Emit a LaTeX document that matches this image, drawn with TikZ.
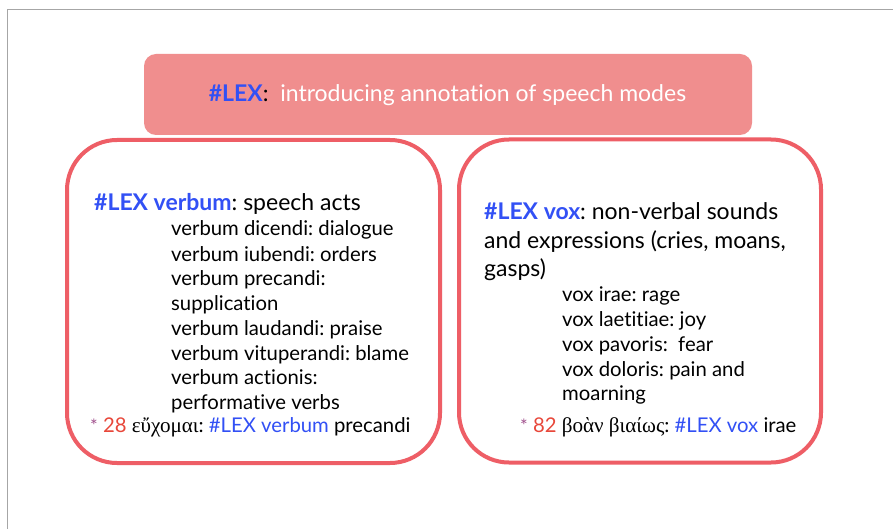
\documentclass[tikz,border=0pt]{standalone}
\usepackage{fontspec}
\setmainfont{Lato}[RawFeature=-liga]
\newfontfamily\greekfont{Liberation Serif}[Scale=1.04]
\definecolor{titlefill}{HTML}{F08E8E}
\definecolor{boxline}{HTML}{EE5E66}
\definecolor{lexblue}{HTML}{3250F5}
\definecolor{numred}{HTML}{E8473A}
\definecolor{starpurple}{HTML}{A04F8C}
\definecolor{framegray}{HTML}{A6A6A6}
\newcommand{\lexs}[1]{\textcolor{lexblue}{#1}}
\newcommand{\starmark}{{\fontsize{18}{18}\selectfont\textcolor{starpurple}{*}}}
\frenchspacing
\begin{document}
\begin{tikzpicture}[x=1pt,y=-1pt,
  titlebox/.style={fill=titlefill, draw=none, rounded corners=12pt, minimum width=608pt, minimum height=81pt, inner sep=0pt},
  titletext/.style={anchor=base, inner sep=0pt, text=white, font=\fontsize{23}{27}\selectfont},
  groupbox/.style={draw=boxline, line width=4pt, rounded corners=50pt, fill=white, inner sep=0pt},
  headline/.style={anchor=base west, inner sep=0pt, font=\fontsize{23}{27}\selectfont},
  itemline/.style={anchor=base west, inner sep=0pt, font=\fontsize{20.3}{24}\selectfont},
  exline/.style={anchor=base west, inner sep=0pt, font=\fontsize{20.3}{24}\selectfont}
]
\useasboundingbox (0,0) rectangle (893,529);
\fill[white] (0,0) rectangle (893,529);
\draw[framegray, line width=1.5pt] (7.5,529) |- (893,9.5);

\node[titlebox] (title) at (448,94.5) {};
\node[titletext] (titlet) at (447.5,102) {\textcolor{lexblue}{\bfseries\#LEX}\textcolor{black}{:}\ \ introducing annotation of speech modes};

\node[groupbox, minimum width=373pt, minimum height=323pt] (lbox) at (253.5,301.5) {};
\node[groupbox, minimum width=362pt, minimum height=323pt] (rbox) at (640,301) {};

% left block
\node[headline] (lh) at (94,211) {\textcolor{lexblue}{\bfseries\#LEX verbum}: speech acts};
\node[itemline] (l1) at (171,236) {verbum dicendi: dialogue};
\node[itemline] (l2) at (171,261) {verbum iubendi: orders};
\node[itemline] (l3) at (171,285) {verbum precandi:};
\node[itemline] (l4) at (171,310) {supplication};
\node[itemline] (l5) at (171,335) {verbum laudandi: praise};
\node[itemline] (l6) at (171,360) {verbum vituperandi: blame};
\node[itemline] (l7) at (171,384) {verbum actionis:};
\node[itemline] (l8) at (171,409) {performative verbs};
\node[exline] (lex) at (90,432) {\starmark\ \textcolor{numred}{28} {\greekfont εὔχομαι}: \lexs{\#LEX verbum} precandi};

% right block
\node[headline] (rh1) at (484,219) {\textcolor{lexblue}{\bfseries\#LEX vox}: non-verbal sounds};
\node[headline] (rh2) at (484,248) {and expressions (cries, moans,};
\node[headline] (rh3) at (484,276) {gasps)};
\node[itemline] (r1) at (562,301) {vox irae: rage};
\node[itemline] (r2) at (562,326) {vox laetitiae: joy};
\node[itemline] (r3) at (562,351) {vox pavoris:\ \ fear};
\node[itemline] (r4) at (562,376) {vox doloris: pain and};
\node[itemline] (r5) at (562,400) {moarning};
\node[exline] (rex) at (520,432) {\starmark\ \textcolor{numred}{82} {\greekfont βοὰν βιαίως}: \lexs{\#LEX vox} irae};
\end{tikzpicture}
\end{document}
